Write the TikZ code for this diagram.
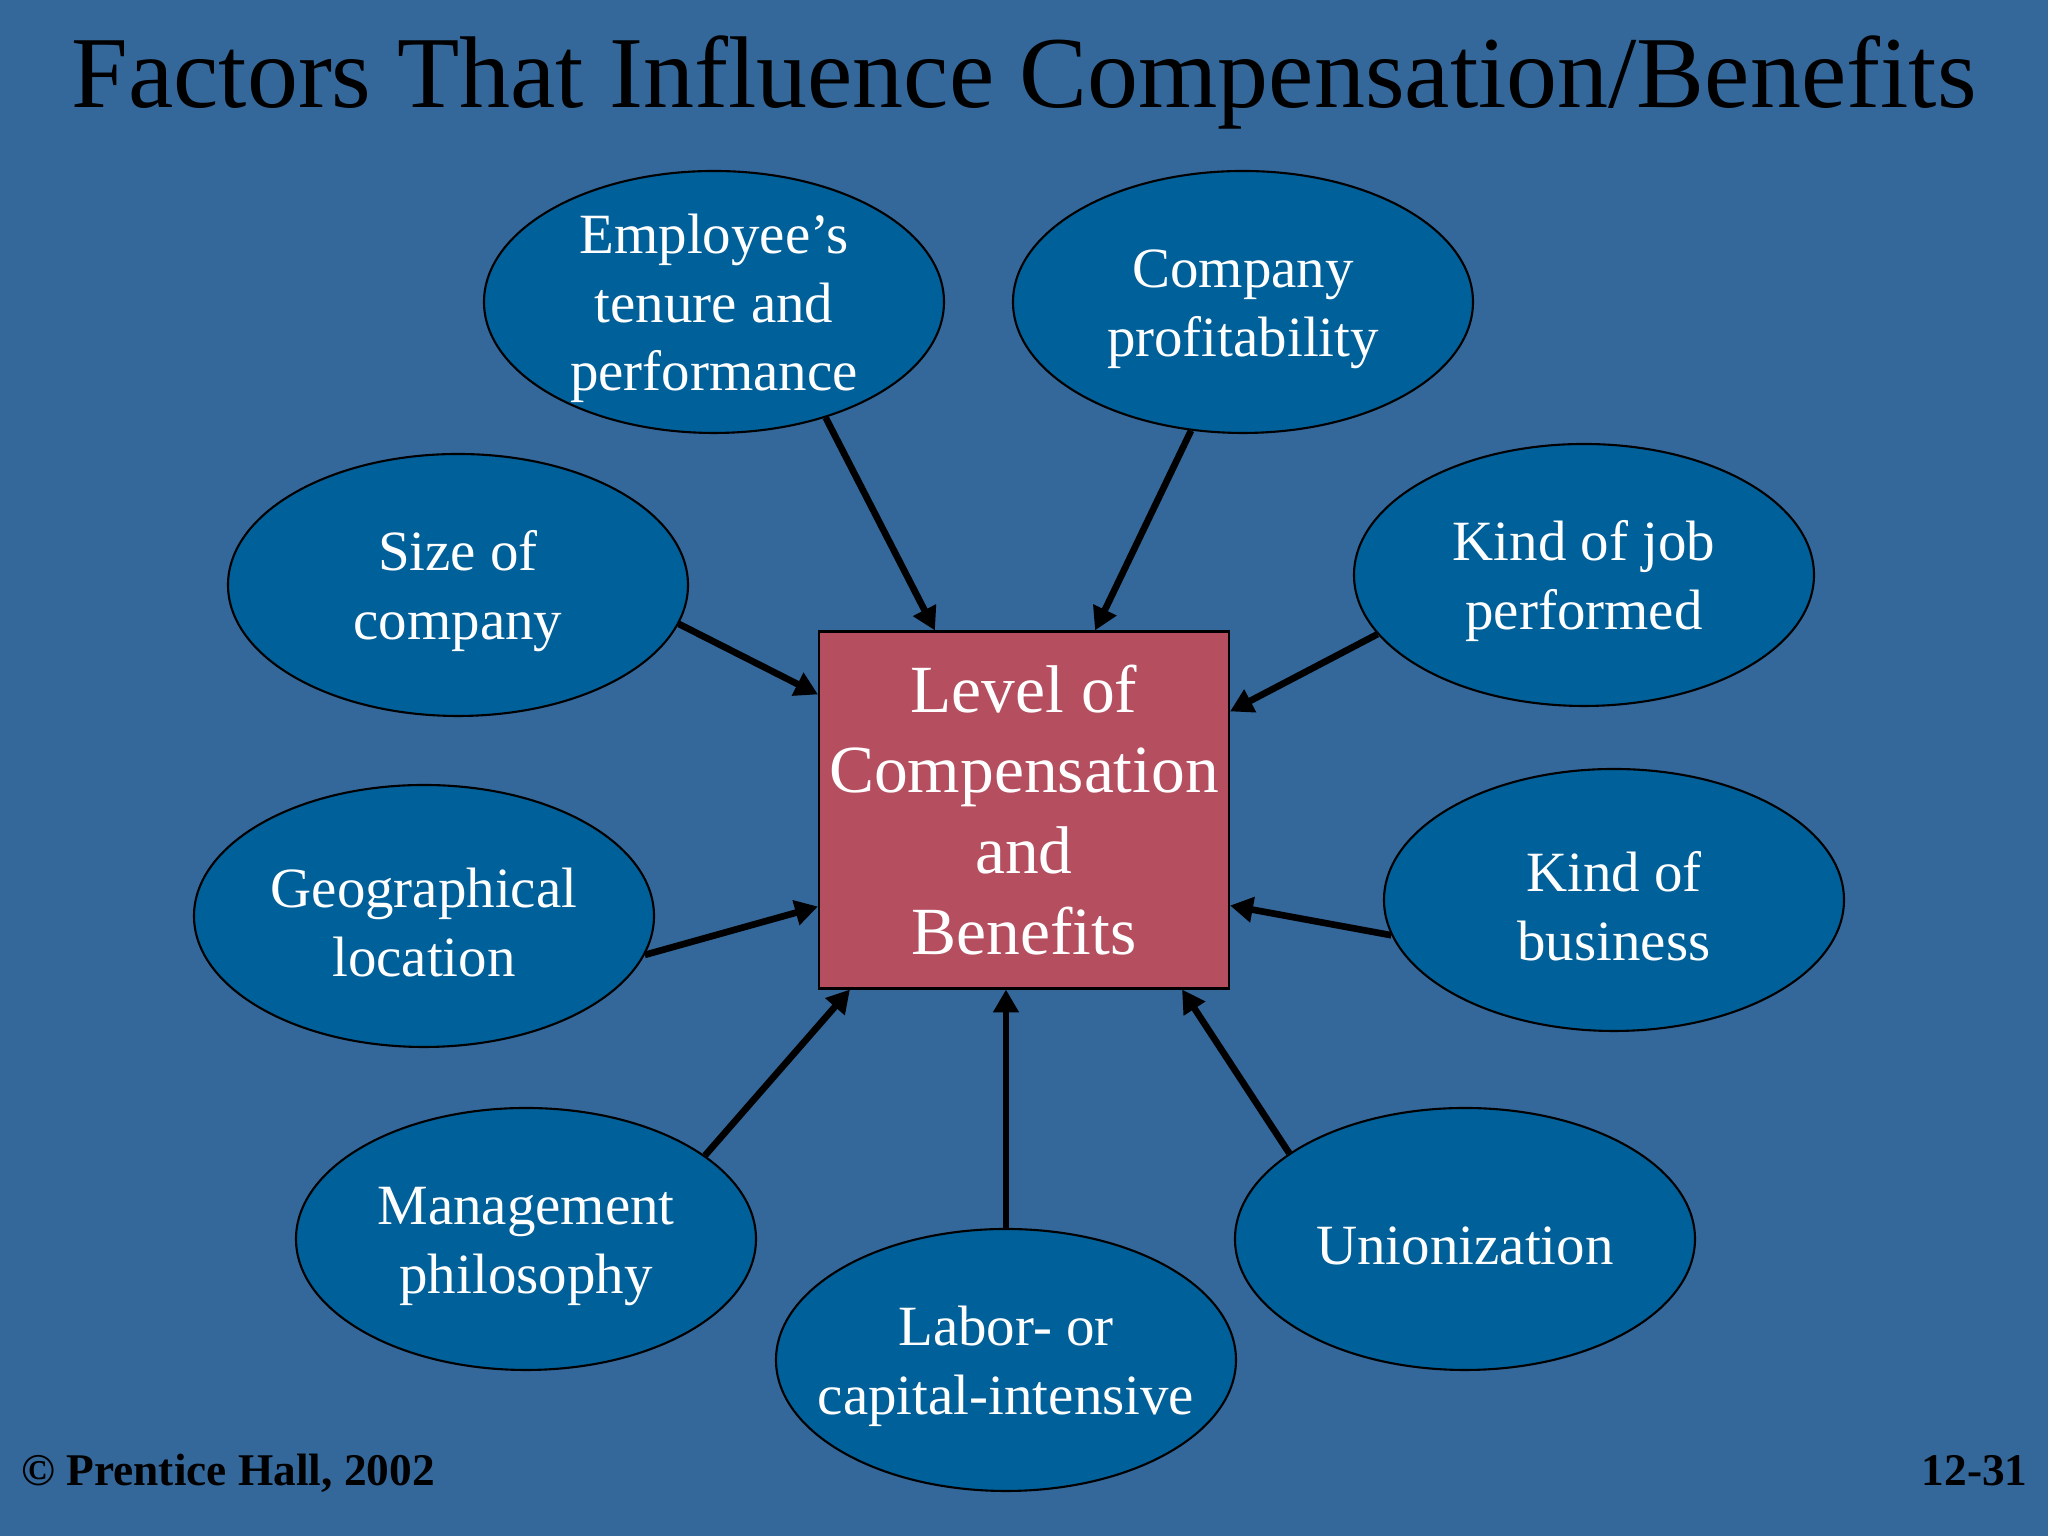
\documentclass[tikz,border=0pt]{standalone}
\usepackage{fontspec}
\setmainfont{Liberation Serif}
\usepackage{tikz}
\usetikzlibrary{positioning, shapes}
\usetikzlibrary{calc}
\usetikzlibrary{arrows.meta}

\definecolor{slidebg}{RGB}{52,103,154}
\definecolor{factorfill}{RGB}{0,96,153}
\definecolor{levelfill}{RGB}{181,79,96}

\begin{document}
\begin{tikzpicture}[
    factor/.style={ellipse, draw=black, line width=0.6pt, fill=factorfill,
        minimum width=4.6cm, minimum height=2.62cm, inner xsep=-0.8cm, inner ysep=-0.5cm,
        align=center, text=white, font=\fontsize{16.2}{19.5}\selectfont},
    level/.style={rectangle, draw=black, line width=0.6pt, fill=levelfill,
        minimum width=4.1cm, minimum height=3.57cm, inner sep=0pt,
        align=center, text=white, font=\fontsize{19.2}{23}\selectfont},
    influence/.style={-{Triangle[length=6.5pt, width=7pt]}, line width=1.9pt}
]

% Background of the slide
\fill[slidebg] (0, 0) rectangle (20.48, 15.36);
\useasboundingbox (0, 0) rectangle (20.48, 15.36);

% Title
\node[anchor=base, font=\fontsize{29}{35}\selectfont] (title) at (10.24, 14.28)
    {Factors That Influence Compensation/Benefits};

% Center box
\node[level] (level) at (10.24, 7.26)
    {Level of\\Compensation\\and\\Benefits};

% Factors around it
\node[factor] (tenure) at (7.14, 12.34) {\\[-0.16cm]Employee’s\\tenure and\\performance};
\node[factor] (profit) at (12.43, 12.34) {\\[-0.16cm]Company\\profitability};
\node[factor] (size) at (4.58, 9.51) {\\[-0.16cm]Size of\\company};
\node[factor] (job) at (15.84, 9.61) {\\[-0.16cm]Kind of job\\performed};
\node[factor] (geo) at (4.24, 6.20) {\\[-0.16cm]Geographical\\location};
\node[factor] (business) at (16.14, 6.36) {\\[-0.16cm]Kind of\\business};
\node[factor] (mgmt) at (5.26, 2.97) {\\[-0.16cm]Management\\philosophy};
\node[factor] (labor) at (10.06, 1.76) {\\[-0.16cm]Labor- or\\capital-intensive};
\node[factor] (union) at (14.65, 2.97) {\\[-0.16cm]Unionization};

% Arrows into the box
\draw[influence] (tenure.-46) -- ([xshift=1.17cm]level.north west);
\draw[influence] (profit.-112) -- ([xshift=-1.35cm]level.north east);
\draw[influence] (size.-10) -- ([yshift=-0.64cm]level.north west);
\draw[influence] (job.196) -- ([yshift=-0.81cm]level.north east);
\draw[influence] (geo.-10) -- ([yshift=0.83cm]level.south west);
\draw[influence] (business.189) -- ([yshift=0.84cm]level.south east);
\draw[influence] (mgmt.25) -- ([xshift=0.32cm]level.south west);
\draw[influence] (labor.90) -- (labor.90 |- level.south);
\draw[influence] (union.154) -- ([xshift=-0.48cm]level.south east);

% Footer
\node[anchor=base west, font=\fontsize{12.9}{15}\selectfont\bfseries] (press) at (0.09, 0.50)
    {© Prentice Hall, 2002};
\node[anchor=base east, font=\fontsize{12.9}{15}\selectfont\bfseries] (page) at (20.40, 0.50)
    {12-31};

\end{tikzpicture}
\end{document}
